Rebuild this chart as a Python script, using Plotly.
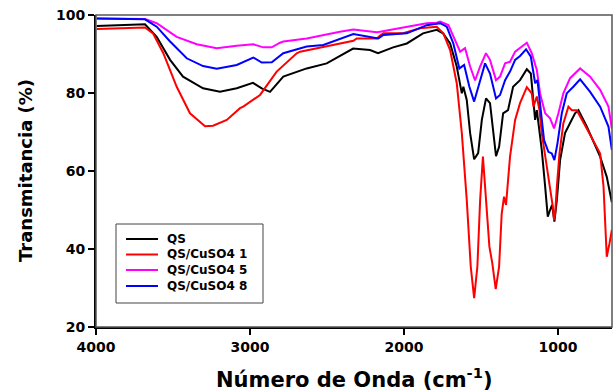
import plotly.graph_objects as go

# QS
qs_x = [3995, 3682, 3606, 3519, 3435, 3305, 3195, 3086, 2981, 2924, 2870, 2805, 2784, 2632, 2502, 2331,
        2221, 2169, 2071, 1982, 1877, 1788, 1747, 1701, 1658, 1625, 1615, 1593, 1571, 1545, 1519, 1495,
        1468, 1442, 1422, 1403, 1383, 1357, 1325, 1292, 1247, 1203, 1177, 1162, 1149, 1138, 1130, 1106,
        1084, 1067, 1052, 1039, 1024, 1008, 987, 955, 922, 890, 868, 814, 727, 684, 651]
qs_y = [97.2, 97.6, 94.4, 88.5, 84.2, 81.2, 80.3, 81.2, 82.6, 81.2, 80.3, 83.3, 84.2, 86.3, 87.6, 91.4,
        91.0, 90.2, 91.7, 92.7, 95.3, 96.2, 95.3, 92.7, 86.8, 79.9, 81.6, 78.2, 69.7, 63.0, 64.6, 73.1,
        78.6, 77.4, 69.7, 63.8, 66.2, 74.8, 75.6, 81.6, 83.3, 86.1, 85.0, 78.2, 73.1, 75.6, 73.1, 65.4,
        56.0, 48.3, 50.0, 51.3, 47.0, 52.6, 62.8, 69.7, 72.3, 74.8, 75.6, 71.4, 63.7, 58.5, 52.0]

# QS/CuSO4 1
c1_x = [3995, 3682, 3630, 3563, 3476, 3390, 3292, 3240, 3151, 3065, 3044, 2935, 2827, 2805, 2697, 2675,
        2524, 2329, 2307, 2177, 2156, 2134, 2006, 1896, 1788, 1745, 1701, 1658, 1625, 1593, 1567, 1545,
        1524, 1506, 1488, 1468, 1446, 1427, 1405, 1383, 1366, 1351, 1338, 1312, 1279, 1247, 1203, 1171,
        1160, 1138, 1121, 1106, 1078, 1063, 1047, 1034, 1026, 1019, 1008, 991, 966, 933, 911, 879, 814,
        727, 705, 684, 666, 651]
c1_y = [96.4, 96.8, 95.3, 90.2, 81.6, 74.8, 71.5, 71.6, 73.1, 76.1, 76.5, 79.5, 85.5, 86.3, 90.2, 90.6,
        91.9, 93.4, 94.0, 94.0, 94.7, 95.3, 95.3, 96.6, 97.0, 95.3, 91.0, 82.5, 69.7, 52.6, 35.5, 27.4,
        35.5, 52.6, 63.7, 52.6, 40.6, 36.3, 29.7, 35.5, 49.1, 53.4, 51.3, 63.7, 73.1, 77.4, 81.5, 79.9,
        76.5, 79.1, 75.6, 69.7, 62.8, 58.5, 55.1, 50.8, 47.4, 49.1, 56.0, 64.5, 72.2, 76.5, 75.6, 75.6, 70.9,
        64.5, 56.0, 38.0, 41.5, 44.9]

# QS/CuSO4 5
c5_x = [3995, 3682, 3606, 3476, 3346, 3216, 3086, 2979, 2914, 2859, 2805, 2784, 2632, 2524, 2416, 2329,
        2177, 2156, 2026, 1853, 1788, 1766, 1712, 1680, 1636, 1604, 1571, 1539, 1506, 1468, 1442, 1403,
        1377, 1344, 1312, 1279, 1236, 1203, 1171, 1138, 1117, 1084, 1052, 1026, 998, 966, 922, 857, 792,
        727, 673, 651]
c5_y = [99.1, 99.0, 97.9, 94.4, 92.5, 91.5, 92.1, 92.5, 91.7, 91.7, 92.9, 93.2, 94.0, 94.9, 95.7, 96.3,
        95.6, 95.7, 96.6, 97.9, 98.0, 98.3, 97.4, 94.4, 90.6, 91.5, 86.8, 83.2, 86.8, 90.2, 88.5, 83.3,
        84.2, 87.6, 88.0, 90.6, 91.9, 92.9, 90.2, 85.9, 79.9, 74.8, 73.5, 70.9, 74.8, 79.9, 83.8, 86.3, 84.2,
        80.8, 76.5, 70.9]

# QS/CuSO4 8
c8_x = [3995, 3682, 3606, 3519, 3411, 3305, 3216, 3086, 2979, 2924, 2859, 2805, 2784, 2632, 2524, 2329,
        2167, 2134, 1982, 1853, 1788, 1766, 1723, 1680, 1641, 1610, 1576, 1545, 1511, 1474, 1442, 1403,
        1377, 1344, 1312, 1279, 1247, 1208, 1177, 1149, 1134, 1117, 1091, 1063, 1041, 1024, 1004, 976,
        944, 901, 857, 792, 727, 673, 651]
c8_y = [99.1, 98.9, 97.0, 93.2, 88.9, 86.9, 86.2, 87.2, 89.1, 87.8, 87.9, 89.7, 90.2, 91.9, 92.3, 95.1,
        94.0, 94.9, 95.3, 97.4, 97.7, 97.9, 97.0, 92.7, 86.3, 87.2, 81.6, 77.8, 82.5, 87.6, 85.0, 78.6,
        79.5, 83.3, 85.5, 88.5, 89.5, 91.2, 89.3, 82.5, 83.3, 76.5, 67.9, 64.9, 64.5, 62.8, 67.1, 74.8,
        79.9, 81.6, 83.5, 80.3, 76.5, 71.4, 65.4]

names = ["QS", "QS/CuSO4 1", "QS/CuSO4 5", "QS/CuSO4 8"]
colors = ["#000000", "#ff0000", "#ff00ff", "#0000ff"]
xs = [qs_x, c1_x, c5_x, c8_x]
ys = [qs_y, c1_y, c5_y, c8_y]

x_ticks = [4000, 3000, 2000, 1000]
y_ticks = [20, 40, 60, 80, 100]

fig = go.Figure()
for n, c, x, y in zip(names, colors, xs, ys):
    fig.add_trace(go.Scatter(x=x, y=y, mode="lines", name=n, showlegend=False,
                             line=dict(color=c, width=2)))

FAM = "DejaVu Sans"
font_b = dict(family=FAM, color="black", weight="bold")

# plot area in pixels: x 96..612, y 15..327
L, R, T, B = 96, 612, 15, 327
def px(xp):
    return (xp - L) / (R - L)
def py(yp):
    return (B - yp) / (B - T)

shapes = [dict(type="rect", xref="paper", yref="paper", x0=0, y0=0, x1=1, y1=1,
               line=dict(color="#555555", width=1.5), layer="above")]
annotations = []

# manual legend
shapes.append(dict(type="rect", xref="paper", yref="paper",
                   x0=px(116), x1=px(263), y0=py(303), y1=py(224),
                   line=dict(color="#444444", width=1), fillcolor="white", layer="above"))
row_y = [239, 254.5, 270, 286]
for n, c, ry in zip(names, colors, row_y):
    shapes.append(dict(type="line", xref="paper", yref="paper",
                       x0=px(126), x1=px(158), y0=py(ry), y1=py(ry),
                       line=dict(color=c, width=2), layer="above"))
    annotations.append(dict(xref="paper", yref="paper", x=px(165), y=py(ry),
                            xanchor="left", yanchor="middle", showarrow=False,
                            text=n, font=dict(size=12, **font_b)))

# axis titles
annotations.append(dict(xref="paper", yref="paper", x=px(354), y=py(378),
                        xanchor="center", yanchor="middle", showarrow=False,
                        text="Número de Onda (cm<sup>-1</sup>)", font=dict(size=21, **font_b)))
annotations.append(dict(xref="paper", yref="paper", x=px(25), y=py(171),
                        xanchor="center", yanchor="middle", showarrow=False, textangle=-90,
                        text="Transmitancia (%)", font=dict(size=18, **font_b)))

fig.update_layout(
    width=613, height=391,
    margin=dict(l=L, r=613 - R, t=T, b=391 - B, autoexpand=False),
    paper_bgcolor="white", plot_bgcolor="white",
    showlegend=False,
    xaxis=dict(range=[4000, 650], tickvals=x_ticks, ticktext=[str(v) for v in x_ticks],
               automargin=False,
               showgrid=False, zeroline=False, showline=True, linecolor="black", linewidth=2,
               ticks="outside", ticklen=6, tickwidth=2, tickcolor="black",
               tickfont=dict(size=14, **font_b)),
    yaxis=dict(range=[20, 100], tickvals=y_ticks, automargin=False,
               showgrid=False, zeroline=False, showline=True, linecolor="black", linewidth=2,
               ticks="outside", ticklen=6, tickwidth=2, tickcolor="black",
               tickfont=dict(size=14, **font_b)),
    shapes=shapes,
    annotations=annotations,
)

fig.write_html("out.html", config={"displayModeBar": False},
               post_script="document.body.style.margin='0';document.body.style.overflow='hidden';")
